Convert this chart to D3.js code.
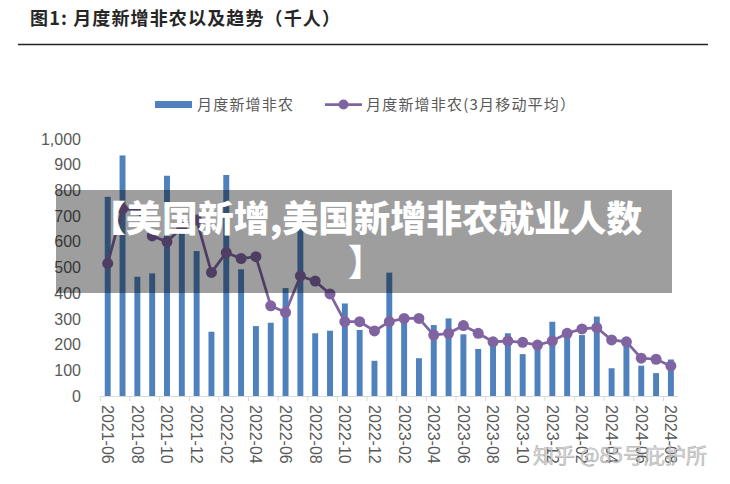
<!DOCTYPE html>
<html>
<head>
<meta charset="utf-8">
<script src="https://cdn.jsdelivr.net/npm/d3@7"></script>
<style>
  html, body { margin: 0; padding: 0; background: #fff; }
  svg { display: block; }
</style>
</head>
<body>
<svg id="chart" width="730" height="484"></svg>
<script>
// ---------- data ----------
const months = [
  "2021-06","2021-07","2021-08","2021-09","2021-10","2021-11","2021-12",
  "2022-01","2022-02","2022-03","2022-04","2022-05","2022-06","2022-07","2022-08","2022-09","2022-10","2022-11","2022-12",
  "2023-01","2023-02","2023-03","2023-04","2023-05","2023-06","2023-07","2023-08","2023-09","2023-10","2023-11","2023-12",
  "2024-01","2024-02","2024-03","2024-04","2024-05","2024-06","2024-07","2024-08"
];
const nfpMonthly = [
  775, 936, 464, 477, 857, 634, 564,
  250, 860, 493, 272, 285, 420, 690, 244, 254, 360, 257, 137,
  480, 289, 147, 276, 302, 240, 183, 210, 244, 163, 187, 289,
  256, 237, 309, 108, 216, 118, 89, 142
];
const nfpMA3 = [
  516, 728, 725, 623, 600, 656, 685,
  481, 558, 535, 542, 351, 325, 467, 447, 397, 289, 289, 253,
  289, 302, 302, 237, 244, 274, 244, 211, 214, 209, 198, 214,
  244, 261, 266, 218, 211, 147, 143, 117
];
const xTickLabels = [
  "2021-06","2021-08","2021-10","2021-12","2022-02","2022-04","2022-06","2022-08","2022-10","2022-12",
  "2023-02","2023-04","2023-06","2023-08","2023-10","2023-12","2024-02","2024-04","2024-06","2024-08"
];
const yTicks = [0, 100, 200, 300, 400, 500, 600, 700, 800, 900, 1000];
const titleText = "图1:  月度新增非农以及趋势（千人）";
const legendBar = "月度新增非农";
const legendLine = "月度新增非农(3月移动平均）";
const bannerLines = ["【美国新增,美国新增非农就业人数", "】"];
const watermark = "知乎 @85号庇护所";

// ---------- drawing ----------
const svg = d3.select("#chart");
const cjk = "'Noto Sans CJK SC', 'Noto Sans', sans-serif";
const latin = "'Liberation Sans', Arial, sans-serif";
const barColor = "#4F81BD";
const lineColor = "#8064A2";

// title
svg.append("text")
  .attr("x", 30).attr("y", 25)
  .attr("font-family", cjk).attr("font-size", 18).attr("font-weight", 700)
  .attr("fill", "#262626")
  .attr("textLength", 310).attr("lengthAdjust", "spacing")
  .text(titleText);
svg.append("line")
  .attr("x1", 18).attr("x2", 708).attr("y1", 44.5).attr("y2", 44.5)
  .attr("stroke", "#222").attr("stroke-width", 1.5);

// scales
const x = d3.scaleBand().domain(months).range([100.3, 678.3])
  .paddingInner(0.6).paddingOuter(0.3);
const y = d3.scaleLinear().domain([0, 1000]).range([396, 139]);

// y axis
const yAxis = svg.append("g")
  .attr("transform", "translate(100,0)")
  .call(d3.axisLeft(y).tickValues(yTicks).tickSize(0).tickPadding(19).tickFormat(d3.format(",")));
yAxis.select(".domain").remove();
yAxis.selectAll("text")
  .attr("font-family", latin).attr("font-size", 16).attr("fill", "#595959");

// bars
svg.append("g").selectAll("rect")
  .data(months)
  .join("rect")
  .attr("x", d => x(d))
  .attr("width", x.bandwidth())
  .attr("y", (d, i) => y(nfpMonthly[i]))
  .attr("height", (d, i) => y(0) - y(nfpMonthly[i]))
  .attr("fill", barColor);

// x axis
const step = x.step();
const x0 = x.range()[0];
const xAxis = svg.append("g");
xAxis.append("line")
  .attr("x1", x0).attr("x2", x.range()[1])
  .attr("y1", 396.5).attr("y2", 396.5)
  .attr("stroke", "#d9d9d9").attr("stroke-width", 1);
const tickIdx = xTickLabels.map(l => months.indexOf(l));
xAxis.selectAll("line.tk")
  .data(tickIdx)
  .join("line").attr("class", "tk")
  .attr("x1", i => x0 + i * step).attr("x2", i => x0 + i * step)
  .attr("y1", 396).attr("y2", 401)
  .attr("stroke", "#d9d9d9");
xAxis.selectAll("text")
  .data(xTickLabels)
  .join("text")
  .attr("transform", d => `translate(${x(d) + x.bandwidth() / 2},405) rotate(90)`)
  .attr("dy", "0.35em")
  .attr("text-anchor", "start")
  .attr("font-family", latin).attr("font-size", 16).attr("fill", "#595959")
  .text(d => d);

// moving average line
const line = d3.line()
  .x((d, i) => x(months[i]) + x.bandwidth() / 2)
  .y(d => y(d));
svg.append("path")
  .datum(nfpMA3)
  .attr("d", line)
  .attr("fill", "none")
  .attr("stroke", lineColor)
  .attr("stroke-width", 2.75);
svg.append("g").selectAll("circle")
  .data(nfpMA3)
  .join("circle")
  .attr("cx", (d, i) => x(months[i]) + x.bandwidth() / 2)
  .attr("cy", d => y(d))
  .attr("r", 5.5)
  .attr("fill", lineColor);

// legend
const lg = svg.append("g");
lg.append("rect").attr("x", 155).attr("y", 101).attr("width", 37).attr("height", 7).attr("fill", barColor);
lg.append("text").attr("x", 197).attr("y", 109.5)
  .attr("font-family", cjk).attr("font-size", 15).attr("fill", "#595959")
  .attr("letter-spacing", 1.2)
  .text(legendBar);
lg.append("line").attr("x1", 325).attr("x2", 362).attr("y1", 104.5).attr("y2", 104.5)
  .attr("stroke", lineColor).attr("stroke-width", 2.75);
lg.append("circle").attr("cx", 343.5).attr("cy", 104.5).attr("r", 5).attr("fill", lineColor);
lg.append("text").attr("x", 366).attr("y", 109.5)
  .attr("font-family", cjk).attr("font-size", 15).attr("fill", "#595959")
  .attr("letter-spacing", 1.2)
  .text(legendLine);

// grey banner overlay
svg.append("rect")
  .attr("x", 56).attr("y", 190).attr("width", 616).attr("height", 103)
  .attr("fill", "#000").attr("fill-opacity", 0.38);
svg.append("g").selectAll("text")
  .data(bannerLines)
  .join("text")
  .attr("x", 366)
  .attr("y", (d, i) => 232 + i * 44)
  .attr("text-anchor", "middle")
  .attr("font-family", cjk).attr("font-size", 36).attr("font-weight", 900)
  .attr("fill", "#fff")
  .text(d => d);

// watermark
svg.append("text")
  .attr("x", 533).attr("y", 463)
  .attr("font-family", cjk).attr("font-size", 21)
  .attr("fill", "#d4d4d4").attr("fill-opacity", 0.85)
  .attr("stroke", "#8a8a8a").attr("stroke-opacity", 0.55).attr("stroke-width", 0.7)
  .text(watermark);
</script>
</body>
</html>
